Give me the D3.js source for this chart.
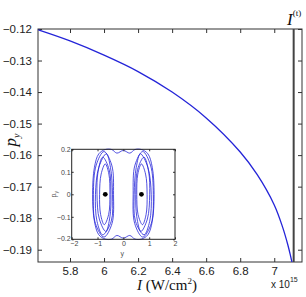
<!DOCTYPE html>
<html lang="en">
<head>
<meta charset="UTF-8">
<title>p_y vs I</title>
<script src="https://d3js.org/d3.v7.min.js"></script>
<style>
    body { margin: 0; background: #fff; }
    .tick text { font-family: "Liberation Sans", Arial, sans-serif; }
</style>
</head>
<body>
<script>
    // main curve: intensity (x 10^15 W/cm^2) vs p_y
    const intensity = [5.614, 5.80, 6.00, 6.20, 6.40, 6.60, 6.80, 6.90, 7.00, 7.05, 7.08, 7.095, 7.106];
    const pyValues  = [-0.1203, -0.1238, -0.1283, -0.1335, -0.1400, -0.1482, -0.1590, -0.1662, -0.1758, -0.1830, -0.1885, -0.1918, -0.1945];
    const thresholdI = 7.114;

    const xTicks = [5.8, 6, 6.2, 6.4, 6.6, 6.8, 7];
    const yTicks = [-0.12, -0.13, -0.14, -0.15, -0.16, -0.17, -0.18, -0.19];

    // inset: phase-space orbits (y, p_y)
    const orbitsLeft = [
        [[-0.52,0],[-0.56,0.09],[-0.70,0.135],[-0.86,0.09],[-0.92,0],[-0.88,-0.09],[-0.74,-0.135],[-0.57,-0.09]],
        [[-0.48,0],[-0.55,0.11],[-0.80,0.165],[-0.98,0.10],[-1.02,0],[-0.93,-0.11],[-0.68,-0.165],[-0.52,-0.10]],
        [[-0.42,0],[-0.50,0.12],[-0.66,0.18],[-0.95,0.12],[-1.08,0],[-1.02,-0.12],[-0.80,-0.18],[-0.47,-0.12]],
        [[-0.38,0],[-0.45,0.13],[-0.75,0.19],[-1.05,0.13],[-1.16,0],[-1.08,-0.13],[-0.75,-0.19],[-0.44,-0.13]]
    ];
    const orbitsRight = [
        [[0.52,0],[0.56,0.09],[0.70,0.135],[0.86,0.09],[0.92,0],[0.88,-0.09],[0.74,-0.135],[0.57,-0.09]],
        [[0.48,0],[0.55,0.11],[0.80,0.165],[0.98,0.10],[1.02,0],[0.93,-0.11],[0.68,-0.165],[0.52,-0.10]],
        [[0.42,0],[0.50,0.12],[0.66,0.18],[0.95,0.12],[1.08,0],[1.02,-0.12],[0.80,-0.18],[0.47,-0.12]],
        [[0.38,0],[0.45,0.13],[0.75,0.19],[1.05,0.13],[1.16,0],[1.08,-0.13],[0.75,-0.19],[0.44,-0.13]]
    ];
    const separatrix = [
        [-1.19,0],[-1.12,0.12],[-0.95,0.18],[-0.70,0.199],[-0.45,0.199],[-0.25,0.183],[0,0.195],[0.25,0.183],
        [0.45,0.199],[0.70,0.199],[0.95,0.18],[1.12,0.12],[1.19,0],[1.12,-0.12],[0.95,-0.18],[0.70,-0.199],
        [0.45,-0.199],[0.25,-0.183],[0,-0.195],[-0.25,-0.183],[-0.45,-0.199],[-0.70,-0.199],[-0.95,-0.18],[-1.12,-0.12]
    ];
    const fixedPoints = [[-0.7, 0], [0.7, 0]];
    const insetXTicks = [-2, -1, 0, 1, 2];
    const insetYTicks = [-0.2, -0.1, 0, 0.1, 0.2];

    const W = 306, H = 297;
    const blue = "#2424d8";
    const svg = d3.select("body").append("svg")
        .attr("width", W)
        .attr("height", H);

    const mLeft = 38, mRight = 302, mTop = 29, mBottom = 262;
    const x = d3.scaleLinear().domain([5.612, 7.163]).range([mLeft, mRight]);
    const y = d3.scaleLinear().domain([-0.12, -0.1939]).range([mTop, mBottom]);

    svg.append("defs").append("clipPath").attr("id", "clip")
        .append("rect").attr("x", mLeft).attr("y", mTop)
        .attr("width", mRight - mLeft).attr("height", mBottom - mTop);

    const fmt = d => String(d).replace("-", "\u2212");

    // axes, ticks inward
    const axB = svg.append("g").attr("transform", `translate(0,${mBottom})`)
        .call(d3.axisBottom(x).tickValues(xTicks).tickSize(-4).tickPadding(5).tickFormat(fmt));
    const axT = svg.append("g").attr("transform", `translate(0,${mTop})`)
        .call(d3.axisTop(x).tickValues(xTicks).tickSize(-4).tickFormat(""));
    const axL = svg.append("g").attr("transform", `translate(${mLeft},0)`)
        .call(d3.axisLeft(y).tickValues(yTicks).tickSize(-4).tickPadding(6).tickFormat(d => fmt(d3.format(".2f")(d))));
    const axR = svg.append("g").attr("transform", `translate(${mRight},0)`)
        .call(d3.axisRight(y).tickValues(yTicks).tickSize(-4).tickFormat(""));
    [axB, axT, axL, axR].forEach(a => {
        a.select(".domain").remove();
        a.selectAll(".tick line").attr("stroke", "#333");
        a.selectAll(".tick text").attr("font-size", 11.5).attr("fill", "#222");
    });

    svg.append("rect").attr("x", mLeft).attr("y", mTop)
        .attr("width", mRight - mLeft).attr("height", mBottom - mTop)
        .attr("fill", "none").attr("stroke", "#333").attr("stroke-width", 1);

    // threshold line
    svg.append("line")
        .attr("x1", x(thresholdI)).attr("x2", x(thresholdI))
        .attr("y1", mTop).attr("y2", mBottom)
        .attr("stroke", "#444").attr("stroke-width", 2);

    const line = d3.line()
        .x((d, i) => x(intensity[i]))
        .y(d => y(d))
        .curve(d3.curveCatmullRom.alpha(0.5));

    svg.append("path")
        .attr("clip-path", "url(#clip)")
        .attr("d", line(pyValues))
        .attr("fill", "none")
        .attr("stroke", blue)
        .attr("stroke-width", 1.3);

    // labels
    const serif = "'Liberation Serif', 'Times New Roman', serif";
    const xl = svg.append("text")
        .attr("x", 167).attr("y", 290)
        .attr("text-anchor", "middle")
        .attr("font-family", serif).attr("font-size", 15).attr("fill", "#111");
    xl.append("tspan").attr("font-style", "italic").text("I");
    xl.append("tspan").text(" (W/cm");
    xl.append("tspan").attr("font-size", 9).attr("dy", -6).text("2");
    xl.append("tspan").attr("dy", 6).text(")");

    const ex = svg.append("text")
        .attr("x", 271).attr("y", 288)
        .attr("font-family", "'Liberation Sans', Arial, sans-serif")
        .attr("font-size", 10).attr("fill", "#222");
    ex.append("tspan").text("x 10");
    ex.append("tspan").attr("font-size", 7).attr("dy", -6).text("15");

    const yl = svg.append("text")
        .attr("transform", "translate(16,140) rotate(-90)")
        .attr("text-anchor", "middle")
        .attr("font-family", serif).attr("font-size", 17).attr("fill", "#111");
    yl.append("tspan").attr("font-style", "italic").text("p");
    yl.append("tspan").attr("font-style", "italic").attr("font-size", 10).attr("dy", 4).text("y");

    const tl = svg.append("text")
        .attr("x", 287).attr("y", 25)
        .attr("font-family", serif).attr("font-size", 17).attr("fill", "#111");
    tl.append("tspan").attr("font-style", "italic").text("I");
    tl.append("tspan").attr("font-size", 9).attr("dy", -9).text("(t)");

    // inset
    const il = 71.7, ir = 175, it = 149.3, ib = 239.3;
    const ix = d3.scaleLinear().domain([-2, 2]).range([il, ir]);
    const iy = d3.scaleLinear().domain([-0.2, 0.2]).range([ib, it]);
    const inset = svg.append("g");

    inset.append("rect").attr("x", il).attr("y", it)
        .attr("width", ir - il).attr("height", ib - it)
        .attr("fill", "#fff");

    const orbitLine = d3.line()
        .x(d => ix(d[0])).y(d => iy(d[1]))
        .curve(d3.curveCatmullRomClosed.alpha(0.5));

    inset.selectAll("path.orbit")
        .data([...orbitsLeft, ...orbitsRight, separatrix])
        .join("path")
        .attr("class", "orbit")
        .attr("d", orbitLine)
        .attr("fill", "none")
        .attr("stroke", blue)
        .attr("stroke-width", 0.8);

    inset.selectAll("circle")
        .data(fixedPoints)
        .join("circle")
        .attr("cx", d => ix(d[0])).attr("cy", d => iy(d[1]))
        .attr("r", 2.4).attr("fill", "#000");

    const iaB = inset.append("g").attr("transform", `translate(0,${ib})`)
        .call(d3.axisBottom(ix).tickValues(insetXTicks).tickSize(-2).tickPadding(2).tickFormat(fmt));
    const iaT = inset.append("g").attr("transform", `translate(0,${it})`)
        .call(d3.axisTop(ix).tickValues(insetXTicks).tickSize(-2).tickFormat(""));
    const iaL = inset.append("g").attr("transform", `translate(${il},0)`)
        .call(d3.axisLeft(iy).tickValues(insetYTicks).tickSize(-2).tickPadding(1).tickFormat(fmt));
    const iaR = inset.append("g").attr("transform", `translate(${ir},0)`)
        .call(d3.axisRight(iy).tickValues(insetYTicks).tickSize(-2).tickFormat(""));
    [iaB, iaT, iaL, iaR].forEach(a => {
        a.select(".domain").remove();
        a.selectAll(".tick line").attr("stroke", "#333");
        a.selectAll(".tick text").attr("font-size", 7).attr("fill", "#444");
    });
    // keep the corner labels apart
    iaL.selectAll(".tick text").filter(d => d === -0.2).attr("dy", "0.1em");
    iaB.selectAll(".tick text").filter(d => d === -2).attr("dx", "0.3em");

    inset.append("rect").attr("x", il).attr("y", it)
        .attr("width", ir - il).attr("height", ib - it)
        .attr("fill", "none").attr("stroke", "#222").attr("stroke-width", 1);

    inset.append("text")
        .attr("x", (il + ir) / 2 - 1).attr("y", 256)
        .attr("text-anchor", "middle")
        .attr("font-family", "'Liberation Sans', Arial, sans-serif")
        .attr("font-size", 7).attr("fill", "#555")
        .text("y");

    const ipy = inset.append("text")
        .attr("transform", `translate(${il - 16},${(it + ib) / 2}) rotate(-90)`)
        .attr("text-anchor", "middle")
        .attr("font-family", "'Liberation Sans', Arial, sans-serif")
        .attr("font-size", 7).attr("fill", "#555");
    ipy.append("tspan").text("p");
    ipy.append("tspan").attr("font-size", 5).attr("dy", 2).text("y");
</script>
</body>
</html>
